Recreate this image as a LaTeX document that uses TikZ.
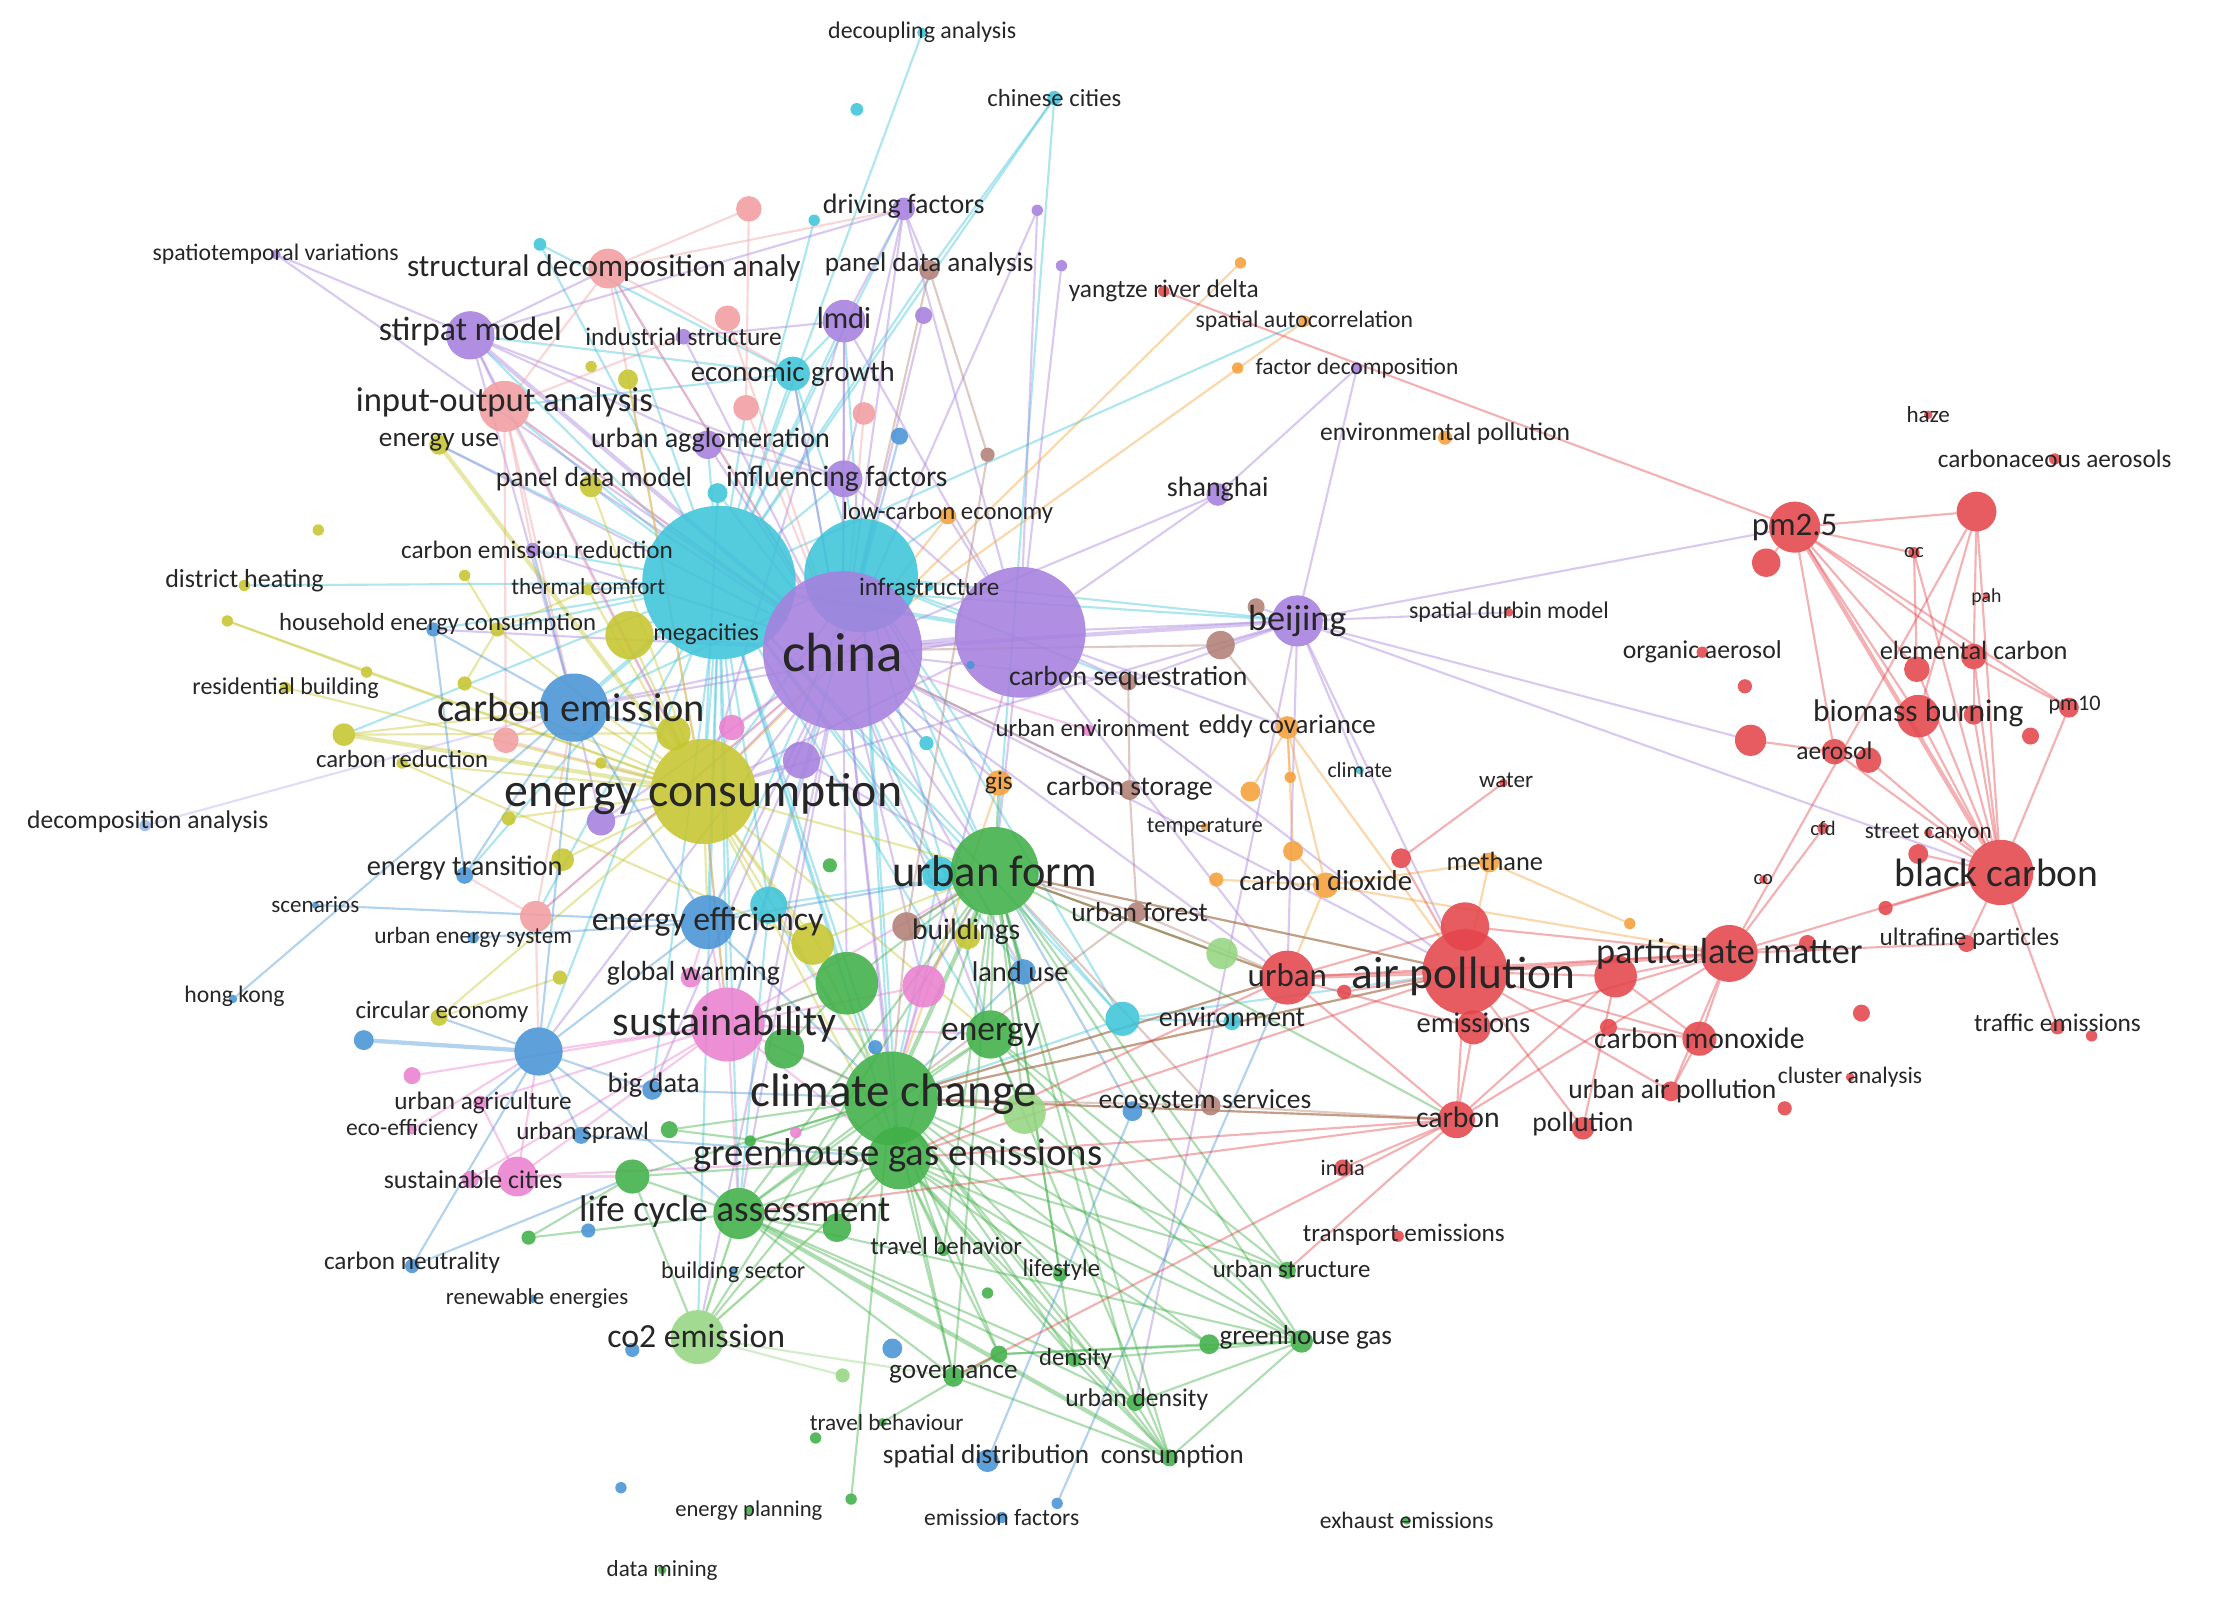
\documentclass[tikz,border=0pt]{standalone}
\usepackage{fontspec}
\setmainfont{Carlito}
\definecolor{cCy}{RGB}{62,196,218}
\definecolor{cPu}{RGB}{166,128,222}
\definecolor{cPuL}{RGB}{190,170,240}
\definecolor{cSa}{RGB}{242,158,160}
\definecolor{cMg}{RGB}{234,128,208}
\definecolor{cYe}{RGB}{198,198,48}
\definecolor{cBl}{RGB}{72,148,214}
\definecolor{cBlL}{RGB}{150,185,235}
\definecolor{cGr}{RGB}{64,176,72}
\definecolor{cLg}{RGB}{150,214,130}
\definecolor{cBr}{RGB}{178,128,118}
\definecolor{cOr}{RGB}{246,160,58}
\definecolor{cRd}{RGB}{228,70,76}
\pgfdeclarelayer{edgelayer}
\pgfdeclarelayer{dotlayer}
\pgfsetlayers{edgelayer,dotlayer,main}
\newcommand\kw[5]{\node[kwdot,fill=#5,minimum size=#4pt*2] (#1) at (#2,#3) {};}
\newcommand\lb[4][]{\pgfmathsetmacro\labfs{#3*1.16}\node[kwlab,font=\fontsize{\labfs}{\labfs}\selectfont,#1] (l#2) at (#2) {#4};}
\newcommand\fan[3]{\foreach \x in {#3}{\draw[#1] (#2) -- (\x);}}
\begin{document}
\begin{tikzpicture}[x=1pt,y=-1pt,
  kwdot/.style={circle,inner sep=0pt,draw=none,fill opacity=0.88},
  kwlab/.style={inner sep=0pt,text=black!85},
  edg/.style={line width=1.5pt,draw opacity=0.42,line cap=round},
  thk/.style={line width=3pt},
  eCy/.style={edg,draw=cCy}, ePu/.style={edg,draw=cPu}, ePuL/.style={edg,draw=cPuL},
  eSa/.style={edg,draw=cSa}, eMg/.style={edg,draw=cMg}, eYe/.style={edg,draw=cYe},
  eBl/.style={edg,draw=cBl}, eGr/.style={edg,draw=cGr}, eLg/.style={edg,draw=cLg},
  eBr/.style={edg,draw=cBr}, eOr/.style={edg,draw=cOr}, eRd/.style={edg,draw=cRd}]
\begin{pgfonlayer}{edgelayer}
\fill[white] (0,0) rectangle (1568,1126);
\end{pgfonlayer}
\useasboundingbox (0,0) rectangle (1568,1126);
\begin{pgfonlayer}{dotlayer}
% big ones first
\kw{mega}{506}{410}{54}{cCy}
\kw{cyE}{606}{405}{40}{cCy}
\kw{china}{593}{458}{56}{cPu}
\kw{puBig}{718}{445}{46}{cPu}
\kw{ec}{495}{557}{37}{cYe}
% cyan
\kw{decoup}{649}{23}{3.5}{cCy}
\kw{cyA}{603}{77}{4.5}{cCy}
\kw{chcit}{742}{69}{5}{cCy}
\kw{cyB}{573}{155}{4}{cCy}
\kw{cyC}{380}{172}{4.5}{cCy}
\kw{econg}{558}{263}{12}{cCy}
\kw{cyD}{505}{347}{7}{cCy}
\kw{infra}{654}{413}{3}{cCy}
\kw{cyF}{652}{523}{5}{cCy}
\kw{cyG}{541}{637}{13}{cCy}
\kw{cyUF}{661}{615}{12}{cCy}
\kw{cyEnv}{790}{717}{12}{cCy}
\kw{envir}{867}{719}{6}{cCy}
\kw{clim}{957}{542}{3}{cCy}
% purple
\kw{spatv}{194}{179}{3.5}{cPu}
\kw{drivf}{636}{147}{8}{cPu}
\kw{puA}{730}{148}{4}{cPu}
\kw{puB}{747}{187}{4}{cPu}
\kw{lmdi}{594}{226}{15}{cPu}
\kw{puC}{650}{222}{6}{cPu}
\kw{indstr}{481}{237}{5.5}{cPu}
\kw{stirpat}{331}{236}{17}{cPu}
\kw{uagg}{498}{313}{10}{cPu}
\kw{inff}{594}{337}{13}{cPu}
\kw{cer}{375}{387}{5}{cPu}
\kw{puD}{423}{578}{10}{cPu}
\kw{puE}{564}{535}{13}{cPu}
\kw{facdec}{955}{259}{4}{cPu}
\kw{shanghai}{857}{348}{8}{cPu}
\kw{beijing}{913}{437}{18}{cPu}
% salmon
\kw{saA}{527}{147}{9}{cSa}
\kw{sda}{428}{189}{14}{cSa}
\kw{saB}{512}{224}{9}{cSa}
\kw{iot}{355}{286}{18}{cSa}
\kw{saC}{525}{287}{9}{cSa}
\kw{saD}{608}{291}{8}{cSa}
\kw{saE}{356}{521}{9}{cSa}
\kw{saF}{377}{645}{11}{cSa}
% magenta
\kw{mgA}{515}{512}{9}{cMg}
\kw{uenv}{766}{514}{4}{cMg}
\kw{gw}{486}{688}{7}{cMg}
\kw{mgB}{650}{694}{15}{cMg}
\kw{sust}{512}{721}{26}{cMg}
\kw{mgC}{290}{757}{6}{cMg}
\kw{uagr}{338}{776}{5}{cMg}
\kw{ecoe}{290}{795}{3.5}{cMg}
\kw{sustcit}{331}{830}{6}{cMg}
\kw{mgE}{364}{828}{14}{cMg}
\kw{mgF}{560}{797}{4}{cMg}
% yellow
\kw{yeA}{416}{258}{4}{cYe}
\kw{yeB}{442}{267}{7}{cYe}
\kw{enuse}{309}{313}{7}{cYe}
\kw{pdm}{416}{342}{8}{cYe}
\kw{yeC}{224}{373}{4}{cYe}
\kw{yeD}{327}{405}{4}{cYe}
\kw{dh}{172}{412}{4}{cYe}
\kw{thc}{414}{415}{4}{cYe}
\kw{yeF}{160}{437}{4}{cYe}
\kw{yeE}{350}{443}{5}{cYe}
\kw{yeG}{443}{447}{17}{cYe}
\kw{yeH}{258}{473}{4}{cYe}
\kw{resb}{201}{484}{4}{cYe}
\kw{yeI}{327}{481}{5}{cYe}
\kw{yeJ}{474}{516}{12}{cYe}
\kw{yeK}{242}{517}{8}{cYe}
\kw{cred}{283}{537}{4}{cYe}
\kw{yeL}{423}{537}{4}{cYe}
\kw{yeM2}{358}{576}{5}{cYe}
\kw{yeO}{396}{605}{8}{cYe}
\kw{yeM}{394}{688}{5}{cYe}
\kw{circ}{309}{716}{6}{cYe}
\kw{yeN}{572}{664}{15}{cYe}
\kw{bldg}{681}{659}{9}{cYe}
% blue
\kw{blA}{633}{307}{6}{cBl}
\kw{hec}{305}{443}{5}{cBl}
\kw{ce}{404}{498}{24}{cBl}
\kw{decan}{102}{581}{4}{cBlL}
\kw{ent}{327}{616}{6}{cBl}
\kw{scen}{222}{637}{2.5}{cBl}
\kw{ues}{333}{660}{4}{cBl}
\kw{ee}{498}{649}{19}{cBl}
\kw{hk}{164}{703}{3}{cBl}
\kw{blB}{256}{732}{7}{cBl}
\kw{blC}{379}{740}{17}{cBl}
\kw{bigd}{459}{767}{7}{cBl}
\kw{usp}{409}{799}{6}{cBl}
\kw{blD}{414}{866}{5}{cBl}
\kw{cneu}{290}{891}{5}{cBl}
\kw{renew}{375}{914}{3}{cBl}
\kw{blE}{445}{950}{5}{cBl}
\kw{blF}{437}{1047}{4}{cBl}
\kw{landu}{720}{684}{9}{cBl}
\kw{blG}{797}{782}{7}{cBl}
\kw{blSmall}{616}{737}{5}{cBl}
\kw{bsec}{516}{895}{3}{cBl}
\kw{blH}{628}{949}{7}{cBl}
\kw{spdist}{695}{1028}{8}{cBl}
\kw{blI}{744}{1058}{4}{cBl}
\kw{emf}{705}{1068}{4}{cBl}
\kw{blChina}{683}{468}{3}{cBl}
% green
\kw{grA}{596}{692}{22}{cGr}
\kw{grB}{552}{738}{14}{cGr}
\kw{grSmall}{584}{609}{5}{cGr}
\kw{uf}{700}{613}{31}{cGr}
\kw{energy}{697}{728}{17}{cGr}
\kw{cc}{627}{773}{33}{cGr}
\kw{ghge}{633}{815}{22}{cGr}
\kw{grC}{471}{795}{6}{cGr}
\kw{grF}{528}{803}{4}{cGr}
\kw{grD}{445}{828}{12}{cGr}
\kw{lca}{520}{854}{18}{cGr}
\kw{grE}{372}{871}{5}{cGr}
\kw{grG}{589}{864}{10}{cGr}
\kw{tb}{664}{880}{4}{cGr}
\kw{lifes}{746}{897}{5}{cGr}
\kw{grH}{695}{910}{4}{cGr}
\kw{ustr}{906}{894}{6}{cGr}
\kw{grI}{703}{953}{6}{cGr}
\kw{dens}{756}{957}{5}{cGr}
\kw{gov}{671}{969}{7}{cGr}
\kw{ghgB}{851}{946}{7}{cGr}
\kw{ghg}{916}{944}{8}{cGr}
\kw{udens}{799}{987}{6}{cGr}
\kw{tbh}{621}{1001}{3}{cGr}
\kw{grJ}{574}{1012}{4}{cGr}
\kw{cons}{823}{1026}{6}{cGr}
\kw{grK}{599}{1055}{4}{cGr}
\kw{eplan}{527}{1063}{3}{cGr}
\kw{exh}{990}{1070}{3}{cGr}
\kw{dmin}{466}{1105}{3}{cGr}
% light green
\kw{co2}{491}{941}{19}{cLg}
\kw{lgA}{721}{783}{15}{cLg}
\kw{lgB}{593}{968}{5}{cLg}
\kw{lgC}{860}{671}{11}{cLg}
% brown
\kw{pda}{654}{190}{7}{cBr}
\kw{brA}{695}{320}{5}{cBr}
\kw{cseq}{794}{480}{6}{cBr}
\kw{brB}{859}{454}{10}{cBr}
\kw{brC}{884}{427}{6}{cBr}
\kw{cstor}{795}{556}{7}{cBr}
\kw{brBld}{638}{652}{10}{cBr}
\kw{uforest}{800}{642}{7}{cBr}
\kw{ecos}{852}{778}{7}{cBr}
% orange
\kw{orA}{873}{185}{4}{cOr}
\kw{spauto}{918}{226}{4}{cOr}
\kw{orB}{871}{259}{4}{cOr}
\kw{envpol}{1017}{308}{5}{cOr}
\kw{lowc}{667}{363}{6}{cOr}
\kw{gis}{703}{551}{9}{cOr}
\kw{eddy}{906}{512}{8}{cOr}
\kw{orC}{908}{547}{4}{cOr}
\kw{orD}{880}{557}{7}{cOr}
\kw{temp}{848}{582}{3}{cOr}
\kw{orE}{910}{599}{7}{cOr}
\kw{orF}{856}{619}{5}{cOr}
\kw{cdiox}{933}{623}{9}{cOr}
\kw{meth}{1048}{607}{7}{cOr}
\kw{orG}{1147}{650}{4}{cOr}
% red
\kw{yrd}{819}{205}{4}{cRd}
\kw{sdm}{1062}{431}{3}{cRd}
\kw{haze}{1357}{292}{3}{cRd}
\kw{carbaer}{1446}{323}{4}{cRd}
\kw{pmtf}{1263}{371}{18}{cRd}
\kw{rdA}{1391}{360}{14}{cRd}
\kw{oc}{1347}{389}{4}{cRd}
\kw{rdB}{1243}{396}{10}{cRd}
\kw{pah}{1398}{420}{2.5}{cRd}
\kw{orgaer}{1198}{459}{4}{cRd}
\kw{rdC}{1228}{483}{5}{cRd}
\kw{elc}{1389}{462}{9}{cRd}
\kw{rdD}{1349}{471}{9}{cRd}
\kw{bb}{1350}{504}{15}{cRd}
\kw{rdE}{1389}{503}{7}{cRd}
\kw{pmten}{1456}{498}{7}{cRd}
\kw{rdF}{1429}{518}{6}{cRd}
\kw{rdG}{1232}{521}{11}{cRd}
\kw{aero}{1291}{529}{9}{cRd}
\kw{rdH}{1315}{535}{9}{cRd}
\kw{water}{1058}{551}{3}{cRd}
\kw{cfd}{1283}{583}{4}{cRd}
\kw{stcan}{1357}{586}{3}{cRd}
\kw{rdI}{1350}{601}{7}{cRd}
\kw{bc}{1408}{614}{23}{cRd}
\kw{co}{1241}{619}{3}{cRd}
\kw{rdJ}{1327}{639}{5}{cRd}
\kw{rdM}{986}{604}{7}{cRd}
\kw{airpol}{1031}{684}{30}{cRd}
\kw{rdN}{1031}{652}{17}{cRd}
\kw{emis}{1037}{723}{12}{cRd}
\kw{rdO}{946}{698}{5}{cRd}
\kw{urban}{906}{688}{19}{cRd}
\kw{pm}{1217}{671}{20}{cRd}
\kw{rdP}{1272}{664}{6}{cRd}
\kw{ufp}{1384}{664}{6}{cRd}
\kw{rdQ}{1137}{687}{15}{cRd}
\kw{rdR}{1310}{713}{6}{cRd}
\kw{traf}{1448}{723}{5}{cRd}
\kw{rdS}{1472}{729}{4}{cRd}
\kw{rdT}{1132}{723}{6}{cRd}
\kw{cmono}{1196}{731}{12}{cRd}
\kw{clan}{1302}{758}{3}{cRd}
\kw{uap}{1176}{768}{7}{cRd}
\kw{rdU}{1256}{780}{5}{cRd}
\kw{poll}{1114}{794}{8}{cRd}
\kw{carbon}{1025}{788}{13}{cRd}
\kw{india}{945}{822}{6}{cRd}
\kw{trem}{984}{870}{4}{cRd}
\end{pgfonlayer}
\begin{pgfonlayer}{edgelayer}
% cyan
\fan{eCy}{mega}{decoup,chcit,cyB,cyC,econg,cyD,sda,iot,lmdi,uagg,pdm,enuse,inff,hec,cer,thc,ec,ee,sust,cc,uf,ghge,yeG,cyG,cyUF,cyEnv,lca,energy,grA,blC,saF,ent,beijing,drivf,pda,saC,mgA,bigd,co2,landu,spauto,yeK,yeE,stirpat,dh}
\fan{eCy,thk}{mega}{ce,china,puBig}
\fan{eCy}{cyE}{china,puBig,uf,cc,econg,lmdi,ec,ce,ee,sust,beijing,inff,lowc,cyEnv,energy,ghge,cseq,gis}
\fan{eCy}{chcit}{pda,uf}
\fan{eCy}{econg}{iot,china,cyC,lmdi,stirpat}
\fan{eCy}{cyG}{ee,uf,cc,lca}
\fan{eCy}{cyUF}{uf,china,cc}
\fan{eCy}{cyEnv}{envir,uf,cc,airpol}
\fan{eCy}{cyD}{china,ec}
\fan{eCy}{cyF}{china,uf}
% purple
\fan{ePu}{china}{spatv,sda,iot,lmdi,drivf,puA,uagg,inff,cer,shanghai,ec,ce,ee,sust,uf,cc,ghge,energy,puD,puE,yeG,cseq,gis,airpol,urban,saF,lca,co2,grA,hec,pdm,enuse,econg,indstr,puC,cstor,landu,blC,bigd,cyF,mgB}
\fan{ePu,thk}{china}{stirpat,puBig,beijing}
\fan{ePu}{puBig}{beijing,shanghai,cseq,uf,cc,drivf,lmdi,inff,puA,puB,ec,airpol,urban,eddy,lowc,ce}
\fan{ePu}{stirpat}{sda,iot,drivf,ec,uagg,inff,spatv,ce}
\fan{ePu}{beijing}{pmtf,bc,rdG,sdm,facdec,cseq,airpol,urban,brC,brB,clim,udens,ec}
\fan{ePu}{shanghai}{facdec}
\fan{ePu}{drivf}{lmdi,pda,inff}
\fan{ePu}{lmdi}{inff,indstr,ec}
\fan{ePu}{inff}{uagg}
\fan{ePu}{puD}{ec,ce}
\fan{ePu}{puE}{ec,uf}
\fan{ePuL}{decan}{ce}
% salmon
\fan{eSa}{sda}{iot,saA,ec,china,drivf,econg}
\fan{eSa}{iot}{ec,ce,china,saE,cer,indstr}
\fan{eSa}{saA}{saC}
\fan{eSa}{saC}{china}
\fan{eSa}{saD}{china}
\fan{eSa}{saE}{ce,ec}
\fan{eSa}{saF}{ce,china,blC,ent}
\fan{eSa}{saB}{china}
% magenta
\fan{eMg}{sust}{ec,cc,uf,mgE,sustcit,grA,mgB,uagr,ee,ghge,lca,blC,energy}
\fan{eMg}{mgE}{sustcit,blC,grD,uagr,ghge}
\fan{eMg}{mgB}{uf,cc}
\fan{eMg}{mgA}{china,ec}
\fan{eMg}{gw}{ee}
\fan{eMg}{mgC}{sust}
\fan{eMg}{ecoe}{blC}
\fan{eMg}{uenv}{china}
% yellow
\fan{eYe}{ec}{pdm,yeG,yeJ,yeI,yeB,thc,cred,yeM2,yeO,ee,sust,cc,uf,ce,yeN,circ,energy,grA,ghge,yeE,resb,yeH,yeF,yeL}
\fan{eYe,thk}{ec}{enuse,yeK}
\fan{eYe}{yeF}{yeH}
\fan{eYe}{yeE}{thc,yeI,yeD}
\fan{eYe}{yeK}{yeJ,ce}
\fan{eYe}{cred}{yeN}
\fan{eYe}{yeM}{circ}
\fan{eYe}{yeN}{uf,cc}
\fan{eYe}{bldg}{uf}
% blue
\fan{eBl}{ce}{ee,blC,hk,ent,hec,cer,yeJ}
\fan{eBl}{ee}{blC,uf,cc,ues,scen}
\fan{eBl}{hec}{ent}
\fan{eBl}{blC}{lca,uagr,usp,cneu,bigd,circ}
\fan{eBl,thk}{blC}{blB}
\fan{eBl}{cneu}{grD}
\fan{eBl}{landu}{uf,cc}
\fan{eBl}{blG}{spdist,uf}
\fan{eBl}{bigd}{cc}
\fan{eBl}{usp}{ghge}
\fan{eBl}{blA}{china}
\fan{eBl}{blI}{urban}
% green
\fan{eGr}{cc}{energy,lca,grA,grB,co2,ghg,ghgB,ustr,dens,lifes,udens,gov,cons,tb,grG,grD,lgA,grI,grK,urban,airpol,carbon,grC,blSmall,grF,mgF}
\fan{eGr,thk}{cc}{uf,ghge}
\fan{eGr}{uf}{energy,ghge,lca,co2,ghg,cons,udens,ustr,tb,lifes,dens,gov,lgA,lgC,urban,airpol,carbon,grA,landu,gis,bldg,brBld}
\fan{eGr}{ghge}{lca,ghg,ghgB,udens,gov,cons,tb,lifes,grG,dens,co2,grI,ustr,grD}
\fan{eGr}{lca}{ghg,grD,grG,co2,grE,energy,gov,udens,dens}
\fan{eGr,thk}{lca}{cons}
\fan{eGr}{energy}{ghg,cons,ustr,lgA}
\fan{eGr}{ghg}{ghgB,cons,udens,grI,dens}
\fan{eGr}{grI}{tbh,gov,ghgB}
\fan{eGr}{cons}{udens,gov,dens}
\fan{eGr}{grA}{sust,grB}
\fan{eGr}{grD}{grE,co2}
\fan{eGr}{grC}{ghge}
\fan{eGr}{lgA}{ghg}
% light green
\fan{eLg}{co2}{ghge,lca,gov,lgB}
\fan{eLg}{lgC}{urban}
% brown
\fan{eBr}{pda}{china,brA}
\fan{eBr}{brA}{brBld}
\fan{eBr}{cseq}{cstor}
\fan{eBr}{cstor}{uforest,china}
\fan{eBr}{uforest}{uf,urban,cc}
\fan{eBr}{ecos}{cc,carbon,uf}
\fan{eBr}{brB}{china,eddy}
\fan{eBr}{brBld}{uf,cc}
% orange
\fan{eOr}{orA}{ec}
\fan{eOr}{spauto}{china}
\fan{eOr}{lowc}{china}
\fan{eOr}{eddy}{orC,orD,orE,cdiox,airpol}
\fan{eOr}{cdiox}{urban,orF,orE,meth,pm}
\fan{eOr}{meth}{airpol,orG}
\fan{eOr}{gis}{cc}
% red
\fan{eRd}{yrd}{pmtf}
\fan{eRd}{airpol}{emis,rdQ,cmono,carbon,rdN,poll,uap,rdO,rdM,uf,cc,ghge}
\fan{eRd,thk}{airpol}{urban,pm}
\fan{eRd}{rdN}{pm,urban}
\fan{eRd}{pm}{rdQ,cmono,rdA,uap,rdP,emis,urban,carbon,bc,ufp,cfd}
\fan{eRd}{cmono}{rdQ,uap,rdT}
\fan{eRd}{pmtf}{bb,elc,oc,rdA,rdB,aero,rdD,pmten}
\fan{eRd,thk}{pmtf}{bc}
\fan{eRd}{bc}{bb,elc,rdA,pmten,aero,rdH,stcan,rdI,ufp,traf,rdJ,oc,rdE,rdD}
\fan{eRd}{rdA}{elc,bb}
\fan{eRd}{oc}{rdD}
\fan{eRd}{elc}{pmten,rdE}
\fan{eRd}{aero}{rdG,rdH}
\fan{eRd}{carbon}{urban,india,emis,ghge,cc,gov,ustr,rdQ,lca}
\fan{eRd}{urban}{emis,uf,cc,ghge}
\fan{eRd}{poll}{rdQ}
\fan{eRd}{rdM}{water}
\end{pgfonlayer}
% labels
\lb{decoup}{14.5}{decoupling analysis}
\lb{chcit}{15}{chinese cities}
\lb[yshift=2pt]{drivf}{17}{driving factors}
\lb{spatv}{14.4}{spatiotemporal variations}
\lb[xshift=-3pt]{sda}{19}{structural decomposition analy}
\lb[yshift=4pt]{pda}{16.5}{panel data analysis}
\lb{yrd}{15.4}{yangtze river delta}
\lb{spauto}{14.4}{spatial autocorrelation}
\lb[yshift=3pt]{stirpat}{20.5}{stirpat model}
\lb{indstr}{15.4}{industrial structure}
\lb[yshift=2pt]{lmdi}{18.5}{lmdi}
\lb{facdec}{14.2}{factor decomposition}
\lb{econg}{17.5}{economic growth}
\lb[yshift=3pt]{iot}{21}{input-output analysis}
\lb[yshift=3pt]{envpol}{15.5}{environmental pollution}
\lb{haze}{14}{haze}
\lb[yshift=2pt]{enuse}{16.5}{energy use}
\lb[xshift=2pt,yshift=3pt]{uagg}{17}{urban agglomeration}
\lb{carbaer}{15.3}{carbonaceous aerosols}
\lb[xshift=2pt,yshift=5pt]{pdm}{16.8}{panel data model}
\lb[xshift=-5pt]{inff}{18}{influencing factors}
\lb[yshift=4pt]{shanghai}{17}{shanghai}
\lb[yshift=2pt]{lowc}{15}{low-carbon economy}
\lb{pmtf}{20}{pm2.5}
\lb[xshift=3pt]{cer}{15.3}{carbon emission reduction}
\lb{oc}{12.5}{oc}
\lb[yshift=3pt]{dh}{15.8}{district heating}
\lb[yshift=2pt]{thc}{14}{thermal comfort}
\lb{infra}{15.3}{infrastructure}
\lb{pah}{12}{pah}
\lb{sdm}{14.5}{spatial durbin model}
\lb{beijing}{22}{beijing}
\lb[xshift=3pt,yshift=4pt]{hec}{15}{household energy consumption}
\lb[xshift=-9pt,yshift=-36pt]{mega}{14.8}{megacities}
\lb[yshift=-1pt]{china}{33.5}{china}
\lb{orgaer}{15.6}{organic aerosol}
\lb[yshift=4pt]{elc}{16}{elemental carbon}
\lb[yshift=3pt]{cseq}{16.8}{carbon sequestration}
\lb{resb}{14.6}{residential building}
\lb[xshift=-2pt]{ce}{24.5}{carbon emission}
\lb[yshift=2pt]{bb}{19}{biomass burning}
\lb[xshift=4pt,yshift=2pt]{pmten}{13.5}{pm10}
\lb[xshift=3pt,yshift=2pt]{uenv}{15}{urban environment}
\lb[yshift=1pt]{eddy}{16.3}{eddy covariance}
\lb[yshift=1pt]{aero}{15.5}{aerosol}
\lb[yshift=3pt]{cred}{15}{carbon reduction}
\lb{clim}{13.2}{climate}
\lb[xshift=2pt,yshift=2pt]{water}{14}{water}
\lb{gis}{15.5}{gis}
\lb[yshift=1pt]{cstor}{16.7}{carbon storage}
\lb[yshift=-2pt]{ec}{29}{energy consumption}
\lb[xshift=2pt,yshift=3pt]{decan}{15.5}{decomposition analysis}
\lb{temp}{13.7}{temperature}
\lb{cfd}{12.5}{cfd}
\lb{stcan}{14}{street canyon}
\lb[xshift=4pt,yshift=1pt]{meth}{16}{methane}
\lb[yshift=5pt]{ent}{17.2}{energy transition}
\lb{uf}{27}{urban form}
\lb[xshift=-3pt]{bc}{24}{black carbon}
\lb{co}{12.5}{co}
\lb[yshift=3pt]{cdiox}{17.5}{carbon dioxide}
\lb{scen}{14}{scenarios}
\lb[xshift=2pt]{uforest}{16.6}{urban forest}
\lb{ee}{20.5}{energy efficiency}
\lb[xshift=-1pt,yshift=3pt]{bldg}{18}{buildings}
\lb{ues}{14.2}{urban energy system}
\lb[xshift=2pt,yshift=3pt]{ufp}{15.3}{ultrafine particles}
\lb{pm}{22}{particulate matter}
\lb[xshift=-2pt]{landu}{17.3}{land use}
\lb[xshift=2pt,yshift=3pt]{gw}{16.8}{global warming}
\lb[yshift=2pt]{urban}{20}{urban}
\lb[xshift=-1pt,yshift=-3pt]{airpol}{27.5}{air pollution}
\lb[xshift=1pt,yshift=2pt]{hk}{14.4}{hong kong}
\lb[xshift=2pt,yshift=4pt]{circ}{15.1}{circular economy}
\lb[yshift=3pt]{envir}{17}{environment}
\lb[yshift=3pt]{emis}{17.3}{emissions}
\lb[yshift=3pt]{traf}{15.4}{traffic emissions}
\lb[xshift=-2pt]{sust}{25.5}{sustainability}
\lb{energy}{21.5}{energy}
\lb{cmono}{18}{carbon monoxide}
\lb{clan}{14.3}{cluster analysis}
\lb[xshift=1pt,yshift=3pt]{bigd}{17.2}{big data}
\lb[xshift=1pt]{uap}{16.7}{urban air pollution}
\lb[xshift=2pt,yshift=3pt]{cc}{28.5}{climate change}
\lb[xshift=2pt]{uagr}{15.3}{urban agriculture}
\lb[xshift=-4pt,yshift=3pt]{ecos}{16.7}{ecosystem services}
\lb[xshift=1pt,yshift=2pt]{carbon}{18}{carbon}
\lb[yshift=3pt]{poll}{16.8}{pollution}
\lb{ecoe}{14.3}{eco-efficiency}
\lb[xshift=1pt,yshift=2pt]{usp}{15.2}{urban sprawl}
\lb[xshift=-1pt,yshift=2pt]{ghge}{23.5}{greenhouse gas emissions}
\lb{india}{13.5}{india}
\lb[xshift=2pt]{sustcit}{15.7}{sustainable cities}
\lb[xshift=-3pt,yshift=1pt]{lca}{22.5}{life cycle assessment}
\lb[xshift=4pt,yshift=1pt]{trem}{15.3}{transport emissions}
\lb[xshift=2pt,yshift=3pt]{tb}{15.1}{travel behavior}
\lb[yshift=2pt]{cneu}{15.3}{carbon neutrality}
\lb[xshift=3pt,yshift=1pt]{ustr}{15.1}{urban structure}
\lb[xshift=1pt,yshift=3pt]{lifes}{15}{lifestyle}
\lb{bsec}{14.6}{building sector}
\lb[xshift=3pt]{renew}{13.9}{renewable energies}
\lb[xshift=-1pt,yshift=1pt]{co2}{20.5}{co2 emission}
\lb[xshift=3pt,yshift=3pt]{ghg}{16.5}{greenhouse gas}
\lb[xshift=1pt,yshift=1pt]{dens}{15}{density}
\lb[yshift=2pt]{gov}{16.5}{governance}
\lb[xshift=1pt,yshift=2pt]{udens}{15.5}{urban density}
\lb[xshift=3pt]{tbh}{14.1}{travel behaviour}
\lb[xshift=-1pt,yshift=3pt]{spdist}{16.5}{spatial distribution}
\lb[xshift=2pt,yshift=1pt]{cons}{16.3}{consumption}
\lb{eplan}{13.7}{energy planning}
\lb{emf}{14.3}{emission factors}
\lb{exh}{14.3}{exhaust emissions}
\lb{dmin}{14}{data mining}
\end{tikzpicture}
\end{document}
